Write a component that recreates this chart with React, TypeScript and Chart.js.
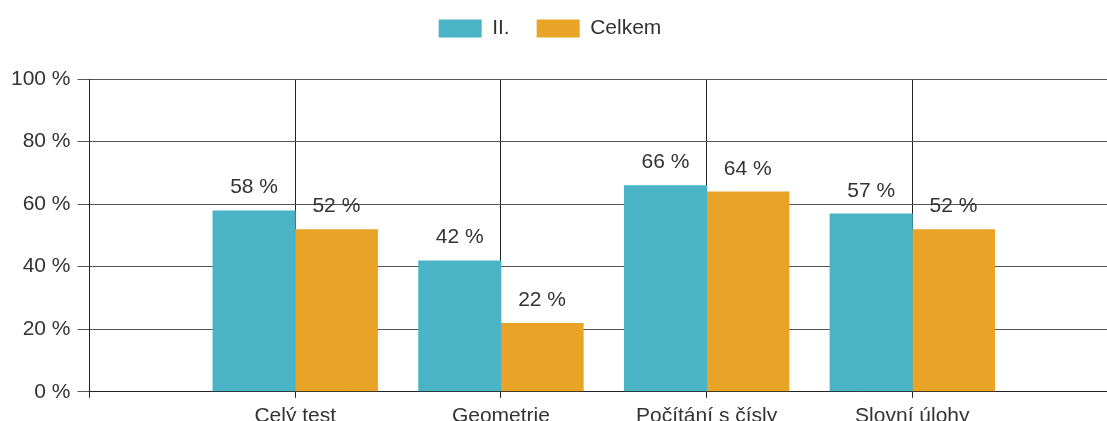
import React, { useEffect, useRef } from "react";
import { Chart, registerables } from "chart.js";

Chart.register(...registerables);

const categories = ["", "Celý test", "Geometrie", "Počítání s čísly", "Slovní úlohy", ""];
const seriesNames = ["II.", "Celkem"];
const seriesII = [null, 58, 42, 66, 57, null];
const seriesCelkem = [null, 52, 22, 64, 52, null];
const yTickValues = [0, 20, 40, 60, 80, 100];

const COLORS = ["#4BB3C6", "#E9A326"];
const FONT = '"Liberation Sans", Arial, sans-serif';
const FS = 21;
const W = 1124;
const H = 438;
const LEGEND_EXTRA = 21;
const LEGEND_SHIFT_X = -13;
const LEGEND_SHIFT_Y = -9;

export default function App() {
  const ref = useRef<HTMLCanvasElement>(null);

  useEffect(() => {
    if (!ref.current) return;

    const valueLabels = {
      id: "valueLabels",
      afterDatasetsDraw(chart: any) {
        const ctx = chart.ctx;
        ctx.save();
        ctx.font = `${FS}px ${FONT}`;
        ctx.fillStyle = "#333333";
        ctx.textAlign = "center";
        ctx.textBaseline = "alphabetic";
        chart.data.datasets.forEach((ds: any, i: number) => {
          const meta = chart.getDatasetMeta(i);
          meta.data.forEach((bar: any, j: number) => {
            const v = ds.data[j];
            if (v == null) return;
            ctx.fillText(`${v} %`, bar.x, bar.y - 17);
          });
        });
        ctx.restore();
      },
    };

    const legendTweak = {
      id: "legendTweak",
      beforeLayout(chart: any) {
        const lg = chart.legend;
        if (lg && !lg._patchedFit) {
          const orig = lg.fit;
          lg.fit = function () {
            orig.call(this);
            this.height += LEGEND_EXTRA;
          };
          lg._patchedFit = true;
        }
      },
      afterLayout(chart: any) {
        const lg = chart.legend;
        if (lg) {
          lg.left += LEGEND_SHIFT_X;
          lg.right += LEGEND_SHIFT_X;
          lg.top += LEGEND_SHIFT_Y;
          lg.bottom += LEGEND_SHIFT_Y;
        }
      },
    };

    const chart = new Chart(ref.current, {
      type: "bar",
      data: {
        labels: categories,
        datasets: [
          {
            label: seriesNames[0],
            data: seriesII as any,
            backgroundColor: COLORS[0],
            borderWidth: 0,
            barPercentage: 1.01,
            categoryPercentage: 0.8,
          },
          {
            label: seriesNames[1],
            data: seriesCelkem as any,
            backgroundColor: COLORS[1],
            borderWidth: 0,
            barPercentage: 1.01,
            categoryPercentage: 0.8,
          },
        ],
      },
      options: {
        responsive: false,
        animation: false,
        devicePixelRatio: 1,
        layout: { padding: { left: 4, right: 2, top: 0, bottom: 3 } },
        font: { family: FONT, size: FS },
        plugins: {
          legend: {
            position: "top",
            labels: {
              boxWidth: 43,
              boxHeight: 18,
              padding: 27,
              color: "#333333",
              font: { family: FONT, size: FS },
            },
          },
          tooltip: { enabled: false },
        },
        scales: {
          x: {
            offset: false,
            grid: {
              offset: false,
              color: "#222222",
              lineWidth: 1,
              tickLength: 6,
            },
            border: { color: "#222222" },
            ticks: {
              color: "#333333",
              font: { family: FONT, size: FS },
              padding: 6,
              autoSkip: false,
              maxRotation: 0,
            },
          },
          y: {
            min: 0,
            max: 100,
            afterBuildTicks: (scale: any) => {
              scale.ticks = yTickValues.map((v) => ({ value: v }));
            },
            grid: { color: "#555555", lineWidth: 1, tickLength: 12 },
            border: { color: "#222222" },
            ticks: {
              color: "#333333",
              font: { family: FONT, size: FS },
              padding: 7,
              callback: (v: any) => `${v} %`,
            },
          },
        },
      },
      plugins: [valueLabels, legendTweak],
    });

    return () => chart.destroy();
  }, []);

  return (
    <div
      style={{
        position: "fixed",
        left: 0,
        top: 0,
        width: 1107,
        height: 421,
        overflow: "hidden",
        background: "#ffffff",
      }}
    >
      <canvas
        ref={ref}
        width={W}
        height={H}
        style={{ position: "absolute", left: 0, top: 0, width: W, height: H }}
      />
    </div>
  );
}
